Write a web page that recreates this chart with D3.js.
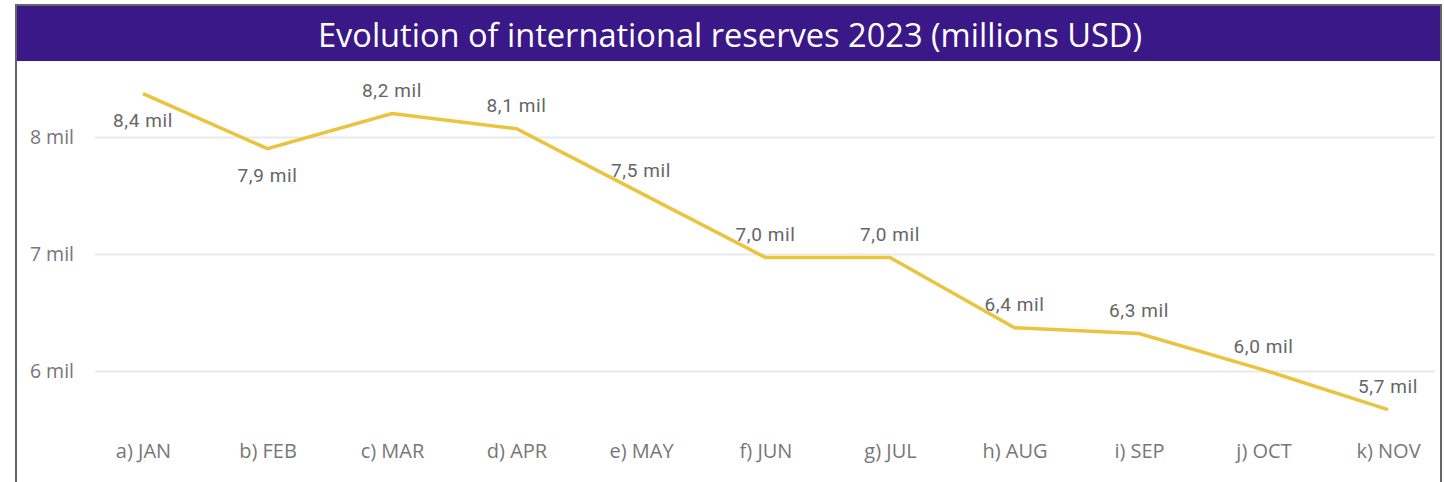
<!DOCTYPE html>
<html>
<head>
<meta charset="utf-8">
<script src="https://cdn.jsdelivr.net/npm/d3@7"></script>
<style>
  body { margin: 0; background: #fff; }
  svg { display: block; }
</style>
</head>
<body>
<div id="chart"></div>
<script>
// Data
const months = ["a) JAN", "b) FEB", "c) MAR", "d) APR", "e) MAY", "f) JUN", "g) JUL", "h) AUG", "i) SEP", "j) OCT", "k) NOV"];
const reserves = [8.37, 7.90, 8.20, 8.07, 7.52, 6.97, 6.97, 6.37, 6.32, 6.01, 5.67];
const labels = ["8,4 mil", "7,9 mil", "8,2 mil", "8,1 mil", "7,5 mil", "7,0 mil", "7,0 mil", "6,4 mil", "6,3 mil", "6,0 mil", "5,7 mil"];
const labelBelow = [true, true, false, false, false, false, false, false, false, false, false];
const yTicks = [6, 7, 8];
const title = "Evolution of international reserves 2023 (millions USD)";

const W = 1444, H = 482;

const svg = d3.select("#chart")
  .append("svg")
    .attr("width", W)
    .attr("height", H);

// Frame and title bar
svg.append("rect")
  .attr("x", 16).attr("y", 5)
  .attr("width", 1425).attr("height", 56)
  .attr("fill", "#3B1888");

svg.append("path")
  .attr("d", `M16,${H} V5 H1441 V${H}`)
  .attr("fill", "none")
  .attr("stroke", "#666")
  .attr("stroke-width", 2);

svg.append("text")
  .attr("x", 730).attr("y", 34)
  .attr("text-anchor", "middle")
  .attr("dominant-baseline", "central")
  .attr("fill", "#fff")
  .style("font-family", "'Open Sans', 'Noto Sans', sans-serif")
  .style("font-size", "32.6px")
  .text(title);

// Scales
const x = d3.scalePoint()
  .domain(months)
  .range([143, 1388]);

const y = d3.scaleLinear()
  .domain([6, 8])
  .range([371, 137]);

// Gridlines + y labels
const yAxis = svg.append("g")
  .attr("transform", "translate(95,0)")
  .call(d3.axisLeft(y).tickValues(yTicks).tickSize(-1340).tickPadding(21).tickFormat(d => `${d} mil`));
yAxis.select(".domain").remove();
yAxis.selectAll(".tick line").attr("stroke", "#E9E9E9").attr("stroke-width", 2);
yAxis.selectAll(".tick text")
  .attr("fill", "#777")
  .style("font-family", "'Open Sans', sans-serif")
  .style("font-size", "19.5px");

// x labels
const xAxis = svg.append("g")
  .attr("transform", "translate(0,451)")
  .call(d3.axisBottom(x).tickSize(0).tickPadding(0));
xAxis.select(".domain").remove();
xAxis.selectAll(".tick text")
  .attr("dy", "0.35em")
  .attr("fill", "#777")
  .style("font-family", "'Open Sans', sans-serif")
  .style("font-size", "20px");

// Line
const line = d3.line()
  .x((d, i) => x(months[i]))
  .y(d => y(d));

svg.append("path")
  .datum(reserves)
  .attr("d", line)
  .attr("fill", "none")
  .attr("stroke", "#EBC43F")
  .attr("stroke-width", 3.5)
  .attr("stroke-linejoin", "miter");

// Data labels
svg.append("g")
  .selectAll("text")
  .data(reserves)
  .join("text")
    .attr("x", (d, i) => x(months[i]))
    .attr("y", (d, i) => y(d) + (labelBelow[i] ? 27 : -23))
    .attr("text-anchor", "middle")
    .attr("dominant-baseline", "central")
    .attr("fill", "#666")
    .style("font-family", "Roboto, 'Noto Sans', sans-serif")
    .style("font-size", "19px")
    .style("letter-spacing", "0.6px")
    .text((d, i) => labels[i]);
</script>
</body>
</html>
